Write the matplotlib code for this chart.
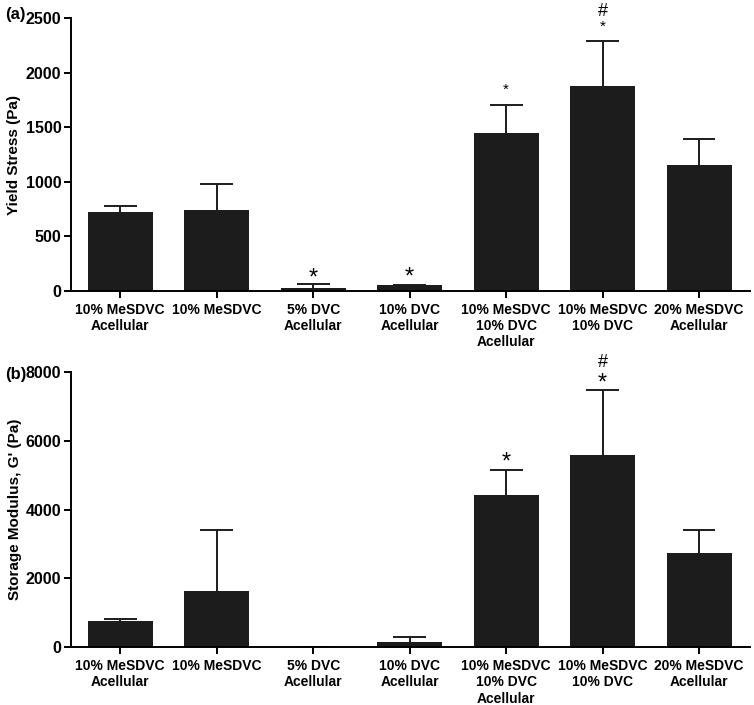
import matplotlib
matplotlib.use('Agg')
import matplotlib.pyplot as plt
import numpy as np

plt.rcParams['font.family'] = ['Liberation Sans', 'DejaVu Sans']
plt.rcParams['font.weight'] = 'bold'

groups = ['10% MeSDVC\nAcellular', '10% MeSDVC', '5% DVC\nAcellular',
          '10% DVC\nAcellular', '10% MeSDVC\n10% DVC\nAcellular',
          '10% MeSDVC\n10% DVC', '20% MeSDVC\nAcellular']

# yield stress (Pa): mean and upper error
yield_mean = [723, 745, 27, 55, 1447, 1875, 1157]
yield_err = [55, 232, 35, 0, 259, 414, 238]

# storage modulus G' (Pa)
storage_mean = [755, 1643, 0, 154, 4430, 5582, 2746]
storage_err = [75, 1762, 0, 146, 716, 1887, 650]

# significance marks: (bar index, y value, text, size)
yield_marks = [(2, 115, '*', 17), (3, 125, '*', 17), (4, 1840, '*', 11),
               (5, 2415, '*', 11), (5, 2560, '#', 13)]
storage_marks = [(4, 5350, '*', 17), (5, 7650, '*', 17), (5, 8260, '#', 13)]

fig = plt.figure(figsize=(7.54, 7.05), dpi=100, facecolor='w')
ax_a = fig.add_axes([0.0942, 0.5872, 0.9008, 0.3873])
ax_b = fig.add_axes([0.0942, 0.0818, 0.9008, 0.3910])

x = np.arange(len(groups))
bar_col = '#1c1c1c'
cap = 0.17


def draw(ax, mean, err, marks, ymax, step, ylabel, tag, tag_y):
    mean = np.array(mean)
    top = mean + np.array(err)
    ax.bar(x, mean, width=0.675, color=bar_col, zorder=2)
    # upper error bars only
    ax.vlines(x, mean, top, color=bar_col, lw=1.4, zorder=1)
    ax.hlines(top, x - cap, x + cap, color=bar_col, lw=1.4, zorder=1)
    for i, yv, t, s in marks:
        ax.text(i, yv, t, ha='center', va='center', fontsize=s,
                fontweight='normal', clip_on=False)
    ax.set_xlim(-0.51, 6.53)
    ax.set_ylim(0, ymax)
    ax.set_yticks(np.arange(0, ymax + 1, step))
    ax.set_xticks(x)
    ax.set_xticklabels(groups, fontsize=10, fontweight='bold', linespacing=1.2)
    ax.tick_params(axis='y', labelsize=11.5, width=1.4, length=5, pad=2)
    ax.tick_params(axis='x', width=1.4, length=5)
    for s in ['top', 'right']:
        ax.spines[s].set_visible(False)
    for s in ['left', 'bottom']:
        ax.spines[s].set_linewidth(1.4)
    ax.set_ylabel(ylabel, fontsize=11, fontweight='bold', labelpad=3)
    fig.text(5 / 754, tag_y, tag, fontsize=12, fontweight='bold',
             ha='left', va='center')


draw(ax_a, yield_mean, yield_err, yield_marks, 2500, 500,
     'Yield Stress (Pa)', '(a)', 1 - 15 / 705)
draw(ax_b, storage_mean, storage_err, storage_marks, 8000, 2000,
     "Storage Modulus, G' (Pa)", '(b)', 1 - 374 / 705)

fig.savefig('out.png', dpi=100, facecolor='w')
